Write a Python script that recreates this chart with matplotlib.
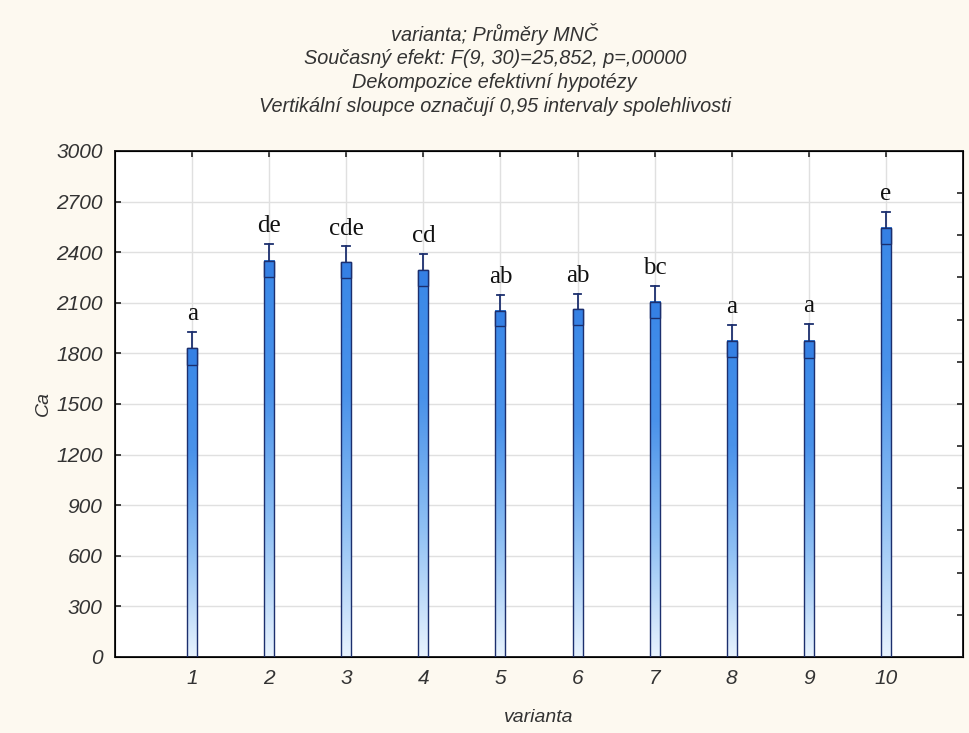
#!/usr/bin/env python3
"""
Bar chart of LS means (Ca) per variant with 0.95 confidence intervals.
"""

import numpy as np
import matplotlib.pyplot as plt
from matplotlib.colors import LinearSegmentedColormap

# data
varianta = [1, 2, 3, 4, 5, 6, 7, 8, 9, 10]
means = [1830, 2350, 2340, 2294, 2053, 2061, 2107, 1875, 1875, 2545]
ci = [97, 100, 95, 95, 92, 92, 95, 95, 100, 95]
letters = ['a', 'de', 'cde', 'cd', 'ab', 'ab', 'bc', 'a', 'a', 'e']

title_lines = [
    'varianta; Průměry MNČ',
    'Současný efekt: F(9, 30)=25,852, p=,00000',
    'Dekompozice efektivní hypotézy',
    'Vertikální sloupce označují 0,95 intervaly spolehlivosti',
]

plt.rcParams['font.family'] = ['Liberation Sans', 'DejaVu Sans']

bg = '#fdf9f0'
edge = '#1c2f6e'
grad = LinearSegmentedColormap.from_list('bar', ['#e8f3fe', '#8fc0f4', '#4a92ea', '#3a88e8'])

fig = plt.figure(figsize=(9.7, 7.33), dpi=100, facecolor=bg)
ax = fig.add_axes([0.1186, 0.1037, 0.8742, 0.6903])
ax.set_facecolor('white')

w = 0.13
gradient = np.linspace(1, 0, 256).reshape(-1, 1)
for x, m, c, lab in zip(varianta, means, ci, letters):
    # gradient filled bar
    ax.imshow(gradient, cmap=grad, aspect='auto', extent=[x - w / 2, x + w / 2, 0, m],
              zorder=2, interpolation='bilinear')
    ax.bar(x, m, width=w, fill=False, edgecolor=edge, linewidth=1.0, zorder=3)
    # lower half of the interval drawn as a box inside the bar
    ax.bar(x, c, bottom=m - c, width=w, color='#3580e4', edgecolor=edge, linewidth=1.0, zorder=4)
    # upper whisker
    ax.plot([x, x], [m, m + c], color=edge, linewidth=1.3, zorder=5)
    ax.plot([x - 0.05, x + 0.05], [m + c, m + c], color=edge, linewidth=1.3, zorder=5)
    ax.text(x, m + c + 40, lab, ha='center', va='bottom', fontsize=18,
            family=['Liberation Serif', 'DejaVu Serif'], color='#111111', zorder=6)

ax.set_xlim(0, 11)
ax.set_ylim(0, 3000)
ax.set_xticks(varianta)
ax.set_yticks(np.arange(0, 3001, 300))
ax.grid(True, color='#e0e0e0', linewidth=1.0, zorder=0)
ax.set_axisbelow(True)

ax.tick_params(direction='in', length=4, width=1.2, color='#222222', labelsize=15,
               labelcolor='#333333', pad=9, top=True)
for t in ax.get_xticklabels() + ax.get_yticklabels():
    t.set_fontstyle('italic')
for s in ax.spines.values():
    s.set_linewidth(1.4)
    s.set_color('#222222')

ax.set_ylabel('Ca', fontsize=14, fontstyle='italic', color='#333333', labelpad=3)
ax.set_xlabel('varianta', fontsize=14, fontstyle='italic', color='#333333', labelpad=15)

# hidden right-hand scale, only its ticks are visible
ax2 = ax.twinx()
ax2.set_ylim(0, 12)
ax2.set_yticks(np.arange(0, 13))
ax2.tick_params(direction='in', length=4, width=1.2, color='#222222', labelright=False)

for i, line in enumerate(title_lines):
    fig.text(0.51, 1 - (34 + 24 * i) / 733, line, ha='center', va='center',
             fontsize=14.3, fontstyle='italic', color='#333333')

plt.savefig('out.png', dpi=100, facecolor=bg)
